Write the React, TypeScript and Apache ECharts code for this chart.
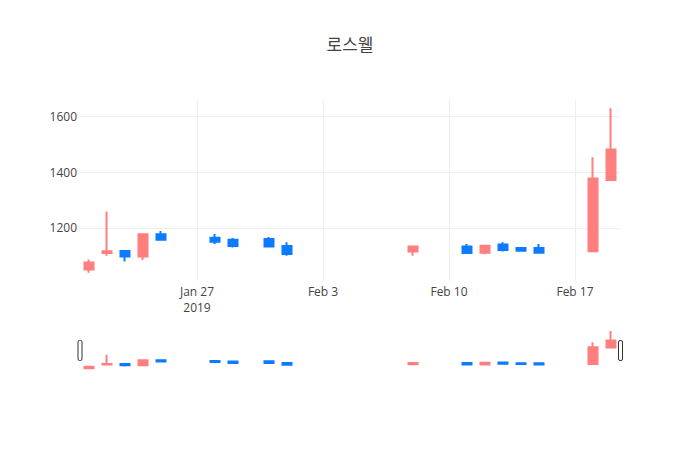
import React, { useEffect, useRef } from "react";
import * as echarts from "echarts";

const dates = [
  "2019-01-21", "2019-01-22", "2019-01-23", "2019-01-24", "2019-01-25",
  "2019-01-28", "2019-01-29", "2019-01-31", "2019-02-01", "2019-02-08",
  "2019-02-11", "2019-02-12", "2019-02-13", "2019-02-14", "2019-02-15",
  "2019-02-18", "2019-02-19",
];
const openValues = [1051, 1110, 1117, 1097, 1177, 1165, 1157, 1160, 1135, 1115, 1133, 1111, 1140, 1128, 1128, 1116, 1372];
const closeValues = [1076, 1116, 1097, 1177, 1157, 1150, 1135, 1133, 1106, 1133, 1110, 1136, 1121, 1118, 1111, 1377, 1481];
const lowValues = [1039, 1100, 1079, 1085, 1156, 1142, 1130, 1130, 1100, 1100, 1110, 1105, 1115, 1114, 1107, 1115, 1371];
const highValues = [1087, 1259, 1118, 1178, 1189, 1178, 1164, 1167, 1148, 1134, 1142, 1137, 1148, 1129, 1142, 1453, 1629];

const xTickDates = ["2019-01-27", "2019-02-03", "2019-02-10", "2019-02-17"];
const yTickValues = [1200, 1400, 1600];
const xRange = ["2019-01-20T12:00", "2019-02-19T12:00"];
const yRange = [1009.5, 1658.5];
const title = "로스웰";

const MONTHS = ["Jan", "Feb", "Mar", "Apr", "May", "Jun", "Jul", "Aug", "Sep", "Oct", "Nov", "Dec"];

function toUTC(s: string): number {
  const [d, t] = s.split("T");
  const [y, m, day] = d.split("-").map(Number);
  const [hh, mm] = t ? t.split(":").map(Number) : [0, 0];
  return Date.UTC(y, m - 1, day, hh, mm);
}

const INC = "#FF7F7F";
const DEC = "#0B7BFF";
const FONT = '"Open Sans", "Noto Sans CJK KR", sans-serif';

export default function App() {
  const ref = useRef<HTMLDivElement>(null);
  useEffect(() => {
    if (!ref.current) return;
    const chart = echarts.init(ref.current, null, { renderer: "svg" });
    const data = dates.map((d, i) => [toUTC(d), openValues[i], closeValues[i], lowValues[i], highValues[i]]);
    const xTicks = xTickDates.map(toUTC);
    const xMin = toUTC(xRange[0]);
    const xMax = toUTC(xRange[1]);
    const candleStyle = {
      color: INC,
      color0: DEC,
      borderColor: INC,
      borderColor0: DEC,
      borderWidth: 2,
    };
    chart.setOption({
      animation: false,
      backgroundColor: "#fff",
      textStyle: { fontFamily: FONT },
      title: {
        text: title,
        left: "center",
        top: 31,
        textStyle: { fontFamily: FONT, fontSize: 17, fontWeight: "normal", color: "#444" },
      },
      grid: [
        { left: 80, right: 80, top: 100, height: 181 },
        { left: 80, right: 80, top: 329, height: 42 },
      ],
      xAxis: [
        {
          type: "value",
          gridIndex: 0,
          min: xMin,
          max: xMax,
          axisLine: { show: false },
          axisTick: { show: false, customValues: xTicks },
          splitLine: { show: true, lineStyle: { color: "#eee", width: 1 } },
          axisLabel: {
            customValues: xTicks,
            color: "#444",
            fontSize: 12,
            fontFamily: FONT,
            margin: 2,
            lineHeight: 16,
            hideOverlap: false,
            formatter: (v: number) => {
              const d = new Date(v);
              const s = `${MONTHS[d.getUTCMonth()]} ${d.getUTCDate()}`;
              return v === xTicks[0] ? `${s}\n${d.getUTCFullYear()}` : s;
            },
          },
        },
        {
          type: "value",
          gridIndex: 1,
          min: xMin,
          max: xMax,
          axisLine: { show: false },
          axisTick: { show: false },
          splitLine: { show: false },
          axisLabel: { show: false },
        },
      ],
      yAxis: [
        {
          type: "value",
          gridIndex: 0,
          min: yRange[0],
          max: yRange[1],
          axisLine: { show: false },
          axisTick: { show: false, customValues: yTickValues },
          splitLine: { show: true, lineStyle: { color: "#eee", width: 1 } },
          axisLabel: {
            customValues: yTickValues,
            color: "#444",
            fontSize: 12,
            fontFamily: FONT,
            margin: 3,
            formatter: (v: number) => String(v),
          },
        },
        {
          type: "value",
          gridIndex: 1,
          min: yRange[0],
          max: yRange[1],
          axisLine: { show: false },
          axisTick: { show: false },
          splitLine: { show: false },
          axisLabel: { show: false },
        },
      ],
      series: [
        {
          type: "candlestick",
          xAxisIndex: 0,
          yAxisIndex: 0,
          data,
          encode: { x: 0, y: [1, 2, 3, 4] },
          barWidth: 9.5,
          itemStyle: candleStyle,
        },
        {
          type: "candlestick",
          xAxisIndex: 1,
          yAxisIndex: 1,
          data,
          encode: { x: 0, y: [1, 2, 3, 4] },
          barWidth: 9.5,
          itemStyle: candleStyle,
          silent: true,
        },
      ],
      graphic: [
        {
          type: "rect",
          left: 77.5,
          top: 340,
          shape: { width: 4, height: 20, r: 1.5 },
          style: { fill: "#fff", stroke: "#333", lineWidth: 1 },
        },
        {
          type: "rect",
          left: 618,
          top: 340,
          shape: { width: 4, height: 20, r: 1.5 },
          style: { fill: "#fff", stroke: "#333", lineWidth: 1 },
        },
      ],
    });
    return () => chart.dispose();
  }, []);
  return (
    <div
      ref={ref}
      style={{ position: "absolute", left: 0, top: 0, width: 700, height: 450 }}
    />
  );
}
